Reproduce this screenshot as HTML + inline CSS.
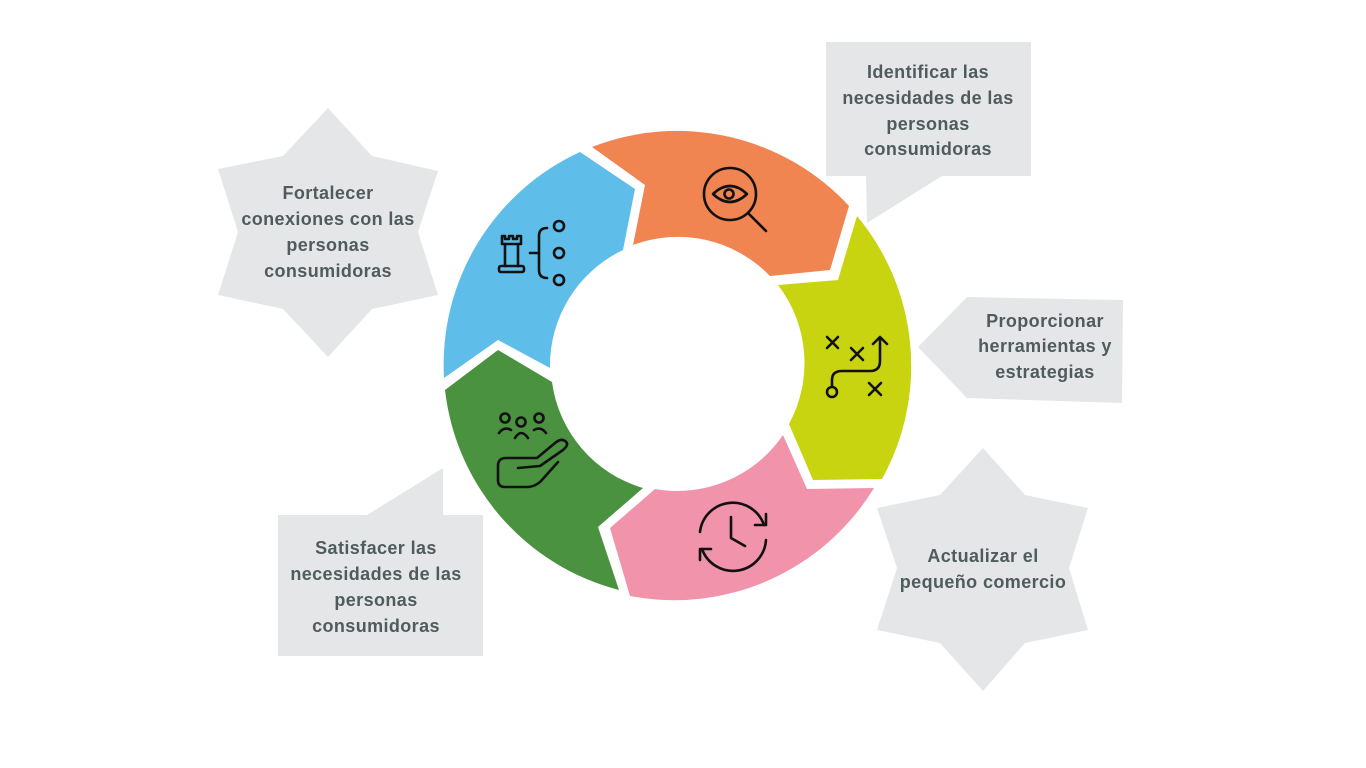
<!DOCTYPE html>
<html><head><meta charset="utf-8"><style>
html,body{margin:0;padding:0;background:#fff;}
svg{display:block}
text{font-family:"Liberation Sans",sans-serif;font-weight:bold;font-size:18px;letter-spacing:0.4px;fill:#505c5c;text-anchor:middle}
</style></head><body>
<svg width="1366" height="768" viewBox="0 0 1366 768" xmlns="http://www.w3.org/2000/svg">
<rect width="1366" height="768" fill="#fff"/>
<g fill="#e5e6e8">
<polygon points="826,42 1031,42 1031,176 942,176 867,223 866,176 826,176"/>
<polygon points="967,297 1123,300 1122,403 967,398 918,347"/>
<polygon points="328,108 372,156 438,171 418,232 438,295 372,309 328,357 283,309 218,295 238,232 218,169 283,156"/>
<polygon points="278,515 367,515 443,468 443,515 483,515 483,656 278,656"/>
<polygon points="983,448 1025,495 1088,508 1069,568 1088,630 1025,643 983,691 940,643 877,630 897,568 877,508 940,495"/>
</g>
<path fill="#F08552" d="M592,147 A234 234 0 0 1 849,206 L830,270 L770,276 A128 128 0 0 0 633,245 L645,185 Z"/>
<path fill="#5FBDEA" d="M444,378 A234 234 0 0 1 580,152 L635,189 L623,250 A128 128 0 0 0 550,368 L498,340 Z"/>
<path fill="#4A9140" d="M445,390 L498,350 L552,382 A128 128 0 0 0 643,488 L598,527 L619,590 A234 234 0 0 1 445,390 Z"/>
<path fill="#F193AB" d="M610,528 L655,489 A128 128 0 0 0 783,435 L807,489 L874,488 A234 234 0 0 1 630,596 Z"/>
<path fill="#C8D40F" d="M778,285 L838,280 L857,216 A234 234 0 0 1 882,479 L813,480 L789,424 A128 128 0 0 0 778,285 Z"/>
<g fill="none" stroke="#111" stroke-width="2.6" stroke-linecap="round" stroke-linejoin="round">
<circle cx="730" cy="194" r="26"/>
<path d="M713,194 Q730,178 747,194 Q730,210 713,194 Z"/>
<circle cx="729" cy="194" r="4.5"/>
<path d="M749,214 L766,231"/>
<path d="M502,236 L502,244 L521,244 L521,236 L517,236 L517,239 L513,239 L513,236 L509,236 L509,239 L505,239 L505,236 Z"/>
<path d="M505,244 L505,266 M518,244 L518,266"/>
<rect x="499" y="266" width="25" height="6" rx="2"/>
<path d="M530,253 L539,253 M547,228 Q539,228 539,236 L539,270 Q539,278 547,278"/>
<circle cx="559" cy="226" r="5"/><circle cx="559" cy="253" r="5"/><circle cx="559" cy="280" r="5"/>
<path d="M827,337 L838,348 M838,337 L827,348"/>
<path d="M851,348 L863,360 M863,348 L851,360"/>
<path d="M869,383 L881,395 M881,383 L869,395"/>
<circle cx="832" cy="392" r="5"/>
<path d="M832,387 L832,380 Q832,371 842,371 L870,371 Q880,371 880,361 L880,337 M873,344 L880,337 L887,344"/>
<circle cx="505" cy="418" r="4.5"/><circle cx="521" cy="422" r="4.5"/><circle cx="539" cy="418" r="4.5"/>
<path d="M499,433 Q504,426 511,430 M515,438 Q521,428 528,438 M534,430 Q541,426 546,433"/>
<path d="M518,468 L540,466 L563,450 Q570,444 565,441 Q561,438 555,443 L537,458 L506,458 Q498,458 498,466 L498,480 Q498,487 505,487 L527,487 Q535,487 541,481 L558,462"/>
<path d="M764,525 A33 33 0 0 0 700,532"/>
<path d="M702,549 A33 33 0 0 0 766,540"/>
<path d="M755,525 L766,525 L766,514"/>
<path d="M711,549 L700,549 L700,560"/>
<path d="M731,517 L731,538 L745,546"/>
</g>
<text x="928" y="78">Identificar las</text>
<text x="928" y="104">necesidades de las</text>
<text x="928" y="130">personas</text>
<text x="928" y="155">consumidoras</text>
<text x="328" y="199">Fortalecer</text>
<text x="328" y="225">conexiones con las</text>
<text x="328" y="251">personas</text>
<text x="328" y="277">consumidoras</text>
<text x="1045" y="327">Proporcionar</text>
<text x="1045" y="352">herramientas y</text>
<text x="1045" y="378">estrategias</text>
<text x="376" y="554">Satisfacer las</text>
<text x="376" y="580">necesidades de las</text>
<text x="376" y="606">personas</text>
<text x="376" y="632">consumidoras</text>
<text x="983" y="562">Actualizar el</text>
<text x="983" y="588">pequeño comercio</text>
</svg>
</body></html>
